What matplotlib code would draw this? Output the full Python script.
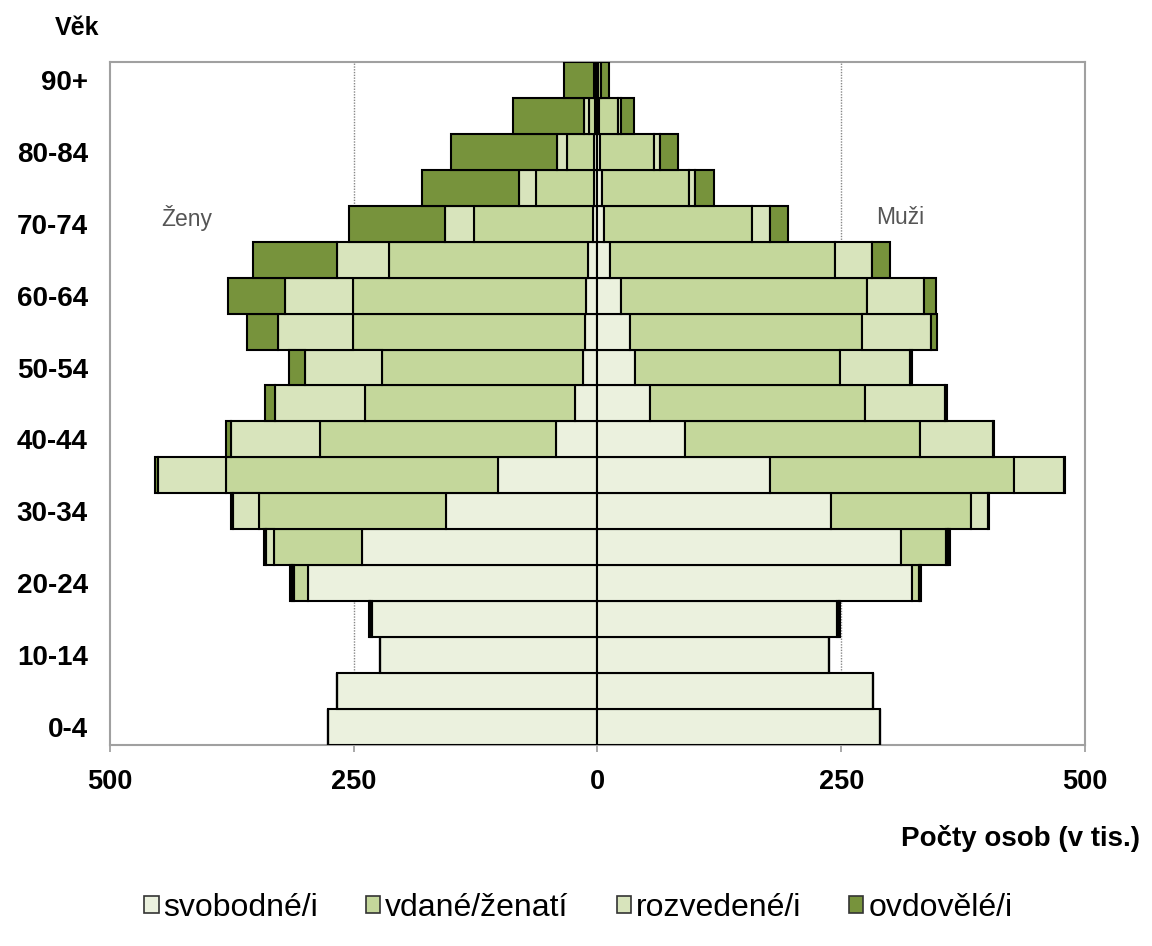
import matplotlib
matplotlib.use("Agg")
import matplotlib.pyplot as plt
from matplotlib.patches import Patch
import numpy as np

# Age groups (bottom to top)
ages = ["0-4", "5-9", "10-14", "15-19", "20-24", "25-29", "30-34", "35-39",
        "40-44", "45-49", "50-54", "55-59", "60-64", "65-69", "70-74",
        "75-79", "80-84", "85-89", "90+"]

# Women by marital status (thousands)
zeny_svobodne = [276, 267, 223, 231, 297, 242, 155, 102, 43, 23, 15, 13, 12, 10, 5, 4, 4, 3, 1]
zeny_vdane = [0, 0, 0, 2.5, 14, 90, 192, 279, 242, 215, 206, 238, 239, 204, 122, 59, 27, 6, 1.5]
zeny_rozvedene = [0, 0, 0, 0.3, 2.5, 8, 27, 70, 91, 93, 79, 77, 70, 53, 29, 18, 11, 5, 1]
zeny_ovdovele = [0, 0, 0, 0.2, 1.5, 2, 2, 3, 5, 10, 16, 31, 58, 86, 99, 99, 108, 73, 31]

# Men by marital status (thousands)
muzi_svobodni = [290, 283, 237, 246, 323, 311, 240, 177, 90, 54, 38, 33, 24, 13, 7, 5, 3, 2, 0.5]
muzi_zenati = [0, 0, 0, 2, 7, 46, 143, 250, 241, 220, 211, 238, 252, 231, 152, 89, 55, 19, 3]
muzi_rozvedeni = [0, 0, 0, 0.2, 1, 3, 18, 51, 75, 82, 72, 71, 59, 38, 18, 6, 6, 3, 0.5]
muzi_ovdoveli = [0, 0, 0, 0.1, 0.5, 2, 1, 2, 1, 2, 2, 6, 12, 18, 18, 20, 19, 13, 8]

status_labels = ["svobodné/i", "vdané/ženatí", "rozvedené/i", "ovdovělé/i"]
colors = ["#EBF1DE", "#C4D79B", "#D8E4BC", "#77933C"]

x_ticks = [-500, -250, 0, 250, 500]
x_ticklabels = ["500", "250", "0", "250", "500"]

FONT = "Liberation Sans"

fig = plt.figure(figsize=(11.52, 9.46), dpi=100)
ax = fig.add_axes([0.0955, 0.2125, 0.8463, 0.722])

y = np.arange(len(ages))
women = [zeny_svobodne, zeny_vdane, zeny_rozvedene, zeny_ovdovele]
men = [muzi_svobodni, muzi_zenati, muzi_rozvedeni, muzi_ovdoveli]

cum_w = np.zeros(len(ages))
cum_m = np.zeros(len(ages))
for vals_w, vals_m, col in zip(women, men, colors):
    vw = np.array(vals_w, dtype=float)
    vm = np.array(vals_m, dtype=float)
    ax.barh(y, -vw, left=-cum_w, height=1.0, color=col, edgecolor="black",
            linewidth=1.5, zorder=3)
    ax.barh(y, vm, left=cum_m, height=1.0, color=col, edgecolor="black",
            linewidth=1.5, zorder=3)
    cum_w += vw
    cum_m += vm

ax.set_xlim(-500, 500)
ax.set_ylim(-0.5, 18.5)

for gx in (-250, 250):
    ax.axvline(gx, color="#888888", linestyle=(0, (1, 1)), linewidth=1.0, zorder=1)

ax.set_xticks(x_ticks)
ax.set_xticklabels(x_ticklabels, fontsize=19.5, fontweight="bold", family=FONT)
ax.set_yticks(y[::2])
ax.set_yticklabels(ages[::2], fontsize=20, fontweight="bold", family=FONT)
ax.tick_params(axis="y", length=0, pad=16)
ax.tick_params(axis="x", length=5, color="#999999", width=1.2, pad=12)

for sp in ax.spines.values():
    sp.set_color("#A0A0A0")
    sp.set_linewidth(1.5)

ax.text(-421, 14.17, "Ženy", fontsize=16.5, color="#555555", family=FONT,
        ha="center", va="center")
ax.text(310, 14.17, "Muži", fontsize=16.5, color="#555555", family=FONT,
        ha="center", va="center")

fig.text(0.067, 0.970, "Věk", fontsize=18, fontweight="bold", family=FONT,
         ha="center", va="center")
fig.text(0.99, 0.114, "Počty osob (v tis.)", fontsize=20, fontweight="bold",
         family=FONT, ha="right", va="center")

handles = [Patch(facecolor=c, edgecolor="#333333", linewidth=1.2) for c in colors]
fig.legend(handles, status_labels, loc="center", bbox_to_anchor=(0.502, 0.040),
           ncol=4, frameon=False, handlelength=0.45, handleheight=0.45,
           handletextpad=0.15, columnspacing=1.5,
           prop={"family": FONT, "size": 23})

fig.savefig("out.png", dpi=100)
